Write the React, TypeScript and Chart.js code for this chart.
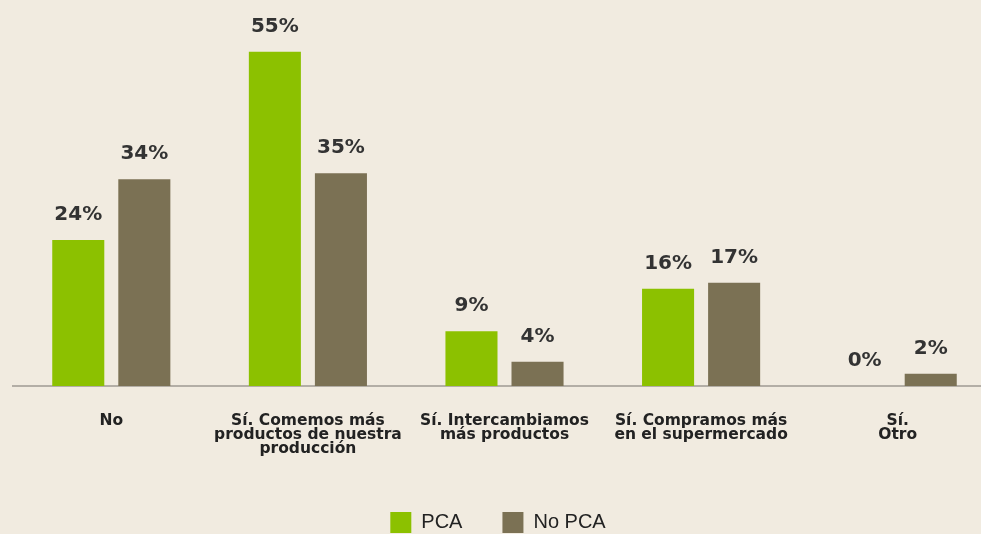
import React, { useEffect, useRef } from "react";
import { Chart, registerables } from "chart.js";

Chart.register(...registerables);

const categories: string[][] = [
  ["No"],
  ["Sí. Comemos más", "productos de nuestra", "producción"],
  ["Sí. Intercambiamos", "más productos"],
  ["Sí. Compramos más", "en el supermercado"],
  ["Sí.", "Otro"],
];
const pcaValues = [24, 55, 9, 16, 0];
const noPcaValues = [34, 35, 4, 17, 2];
const seriesNames = ["PCA", "No PCA"];

const BG = "#f1ebe0";
const GREEN = "#8cc100";
const BROWN = "#7b7154";

const valueLabels = {
  id: "valueLabels",
  afterDatasetsDraw(chart: any) {
    const ctx = chart.ctx;
    ctx.save();
    ctx.font = "bold 20px 'DejaVu Sans', sans-serif";
    ctx.fillStyle = "#333333";
    ctx.textAlign = "center";
    ctx.textBaseline = "alphabetic";
    chart.data.datasets.forEach((ds: any, i: number) => {
      chart.getDatasetMeta(i).data.forEach((bar: any, j: number) => {
        ctx.fillText(ds.data[j] + "%", bar.x, bar.y - 20);
      });
    });
    ctx.restore();
  },
};

export default function App() {
  const ref = useRef<HTMLCanvasElement | null>(null);
  useEffect(() => {
    if (!ref.current) return;
    const chart = new Chart(ref.current, {
      type: "bar",
      data: {
        labels: categories,
        datasets: [
          { label: seriesNames[0], data: pcaValues, backgroundColor: GREEN },
          { label: seriesNames[1], data: noPcaValues, backgroundColor: BROWN },
        ],
      },
      options: {
        responsive: false,
        animation: false,
        layout: { padding: 0 },
        datasets: {
          bar: { categoryPercentage: 0.672, barPercentage: 0.788 },
        },
        scales: {
          x: {
            grid: { display: false, drawTicks: false },
            border: { display: true, color: "#b3aea6", width: 2 },
            ticks: {
              padding: 28,
              color: "#222222",
              maxRotation: 0,
              autoSkip: false,
              font: { family: "'DejaVu Sans', sans-serif", size: 15.5, weight: "bold", lineHeight: 0.9 },
            },
            afterFit: (s: any) => {
              s.height = 86;
            },
          },
          y: {
            display: true,
            min: 0,
            max: 63.5,
            grid: { display: false, drawTicks: false },
            border: { display: false },
            ticks: { display: false },
            afterFit: (s: any) => {
              s.width = 13;
            },
          },
        },
        plugins: {
          tooltip: { enabled: false },
          legend: {
            position: "bottom",
            labels: {
              boxWidth: 21,
              boxHeight: 21,
              padding: 40,
              color: "#222222",
              font: { family: "'Liberation Sans', sans-serif", size: 20 },
            },
          },
        },
      },
      plugins: [valueLabels],
    });
    return () => chart.destroy();
  }, []);
  return (
    <div
      style={{
        position: "fixed",
        left: 0,
        top: 0,
        width: 981,
        height: 534,
        overflow: "hidden",
        background: BG,
      }}
    >
      <canvas ref={ref} width={996} height={543} style={{ display: "block" }} />
    </div>
  );
}
